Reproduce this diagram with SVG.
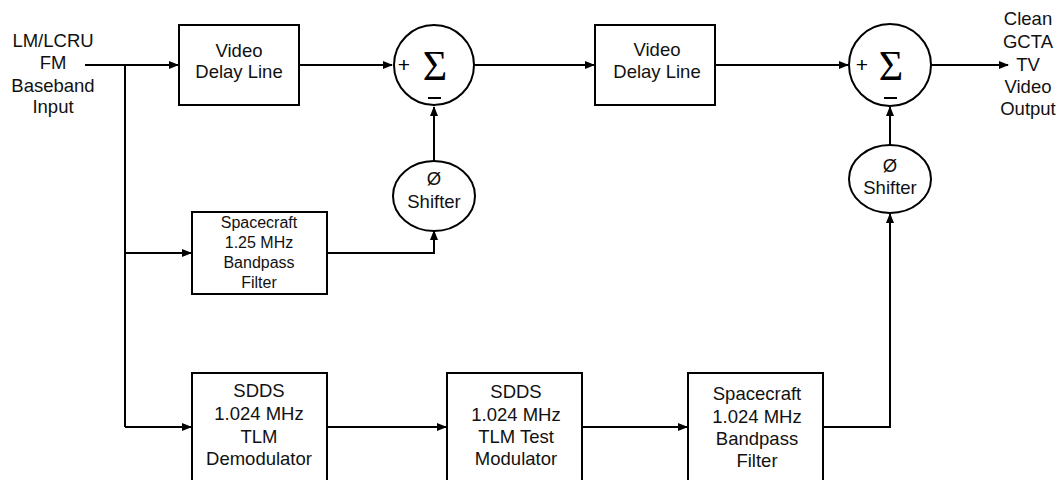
<svg xmlns="http://www.w3.org/2000/svg" width="1057" height="480" viewBox="0 0 1057 480">
<style>
.n{fill:#fff;stroke:#000;stroke-width:2}
.t{font-family:"Liberation Sans",Arial,sans-serif;font-size:18.5px;fill:#111;text-anchor:middle}
.s{font-size:16px}
.w{fill:none;stroke:#000;stroke-width:2}
.sig{font-family:"Liberation Serif","Times New Roman",serif;font-size:42px;fill:#000;text-anchor:middle}
.pm{font-family:"Liberation Sans",Arial,sans-serif;font-size:21px;fill:#000;text-anchor:middle}
</style>
<defs>
<marker id="a" markerWidth="10" markerHeight="8" refX="9" refY="4" orient="auto" markerUnits="userSpaceOnUse">
<path d="M0,0 L10,4 L0,8 Z" fill="#000"/>
</marker>
</defs>
<rect width="1057" height="480" fill="#fff"/>
<g id="connectors">
<path class="w" d="M85,65 H178" marker-end="url(#a)"/>
<path class="w" d="M125,65 V427"/>
<path class="w" d="M125,253 H191" marker-end="url(#a)"/>
<path class="w" d="M125,427 H191" marker-end="url(#a)"/>
<path class="w" d="M299,65 H392" marker-end="url(#a)"/>
<path class="w" d="M474,65 H594" marker-end="url(#a)"/>
<path class="w" d="M715,65 H848" marker-end="url(#a)"/>
<path class="w" d="M931,65 H1008" marker-end="url(#a)"/>
<path class="w" d="M434,161 V107" marker-end="url(#a)"/>
<path class="w" d="M327,253 H434 V231" marker-end="url(#a)"/>
<path class="w" d="M890,145 V107" marker-end="url(#a)"/>
<path class="w" d="M327,427 H446" marker-end="url(#a)"/>
<path class="w" d="M582,427 H687" marker-end="url(#a)"/>
<path class="w" d="M823,427 H890 V214" marker-end="url(#a)"/>
</g>
<g id="input">
<text class="t" x="53" y="47">LM/LCRU</text>
<text class="t" x="53" y="69">FM</text>
<text class="t" x="53" y="92">Baseband</text>
<text class="t" x="53" y="113">Input</text>
</g>
<g id="delay1">
<rect class="n" x="179" y="25" width="120" height="80"/>
<text class="t" x="239" y="57">Video</text>
<text class="t" x="239" y="78">Delay Line</text>
</g>
<g id="sum1">
<circle class="n" cx="434" cy="65" r="40"/>
<text class="pm" x="404" y="72">+</text>
<text class="sig" x="435" y="80">Σ</text>
<line x1="428" y1="98" x2="441" y2="98" stroke="#000" stroke-width="2"/>
</g>
<g id="delay2">
<rect class="n" x="595" y="25" width="120" height="80"/>
<text class="t" x="657" y="56">Video</text>
<text class="t" x="657" y="78">Delay Line</text>
</g>
<g id="sum2">
<circle class="n" cx="890" cy="65" r="41"/>
<text class="pm" x="862" y="72">+</text>
<text class="sig" x="891" y="80">Σ</text>
<line x1="884" y1="98" x2="897" y2="98" stroke="#000" stroke-width="2"/>
</g>
<g id="output">
<text class="t" x="1028" y="25">Clean</text>
<text class="t" x="1028" y="48">GCTA</text>
<text class="t" x="1028" y="71">TV</text>
<text class="t" x="1028" y="93">Video</text>
<text class="t" x="1028" y="115">Output</text>
</g>
<g id="shifter1">
<ellipse class="n" cx="434" cy="196" rx="41" ry="35"/>
<text class="t" x="434" y="185">Ø</text>
<text class="t" x="434" y="208">Shifter</text>
</g>
<g id="shifter2">
<ellipse class="n" cx="890" cy="179" rx="41" ry="34"/>
<text class="t" x="890" y="172">Ø</text>
<text class="t" x="890" y="194">Shifter</text>
</g>
<g id="bpf125">
<rect class="n" x="192" y="212" width="135" height="82"/>
<text class="t s" x="259" y="228">Spacecraft</text>
<text class="t s" x="259" y="248">1.25 MHz</text>
<text class="t s" x="259" y="268">Bandpass</text>
<text class="t s" x="259" y="288">Filter</text>
</g>
<g id="demod">
<rect class="n" x="192" y="373" width="135" height="115"/>
<text class="t" x="259" y="397">SDDS</text>
<text class="t" x="259" y="420">1.024 MHz</text>
<text class="t" x="259" y="443">TLM</text>
<text class="t" x="259" y="465">Demodulator</text>
</g>
<g id="testmod">
<rect class="n" x="447" y="373" width="135" height="115"/>
<text class="t" x="516" y="398">SDDS</text>
<text class="t" x="516" y="421">1.024 MHz</text>
<text class="t" x="516" y="443">TLM Test</text>
<text class="t" x="516" y="465">Modulator</text>
</g>
<g id="bpf1024">
<rect class="n" x="688" y="373" width="135" height="115"/>
<text class="t" x="757" y="400">Spacecraft</text>
<text class="t" x="757" y="423">1.024 MHz</text>
<text class="t" x="757" y="445">Bandpass</text>
<text class="t" x="757" y="467">Filter</text>
</g>
</svg>
